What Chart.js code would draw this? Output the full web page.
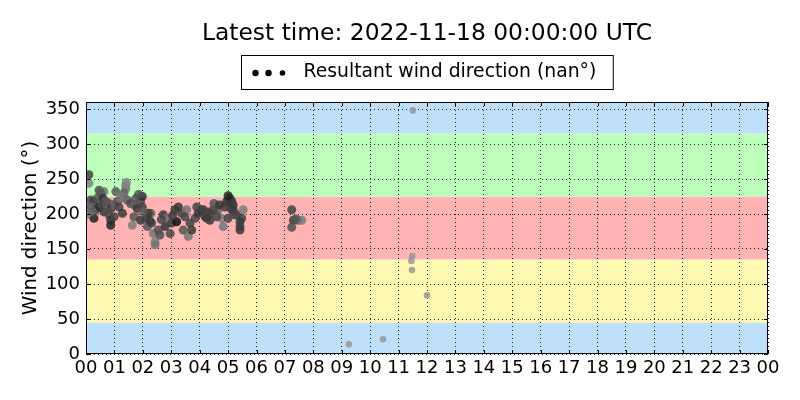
<!DOCTYPE html>
<html>
<head>
<meta charset="utf-8">
<script src="https://cdn.jsdelivr.net/npm/chart.js@4"></script>
<style>
html,body{margin:0;padding:0;background:#fff;}
#wrap{width:800px;height:400px;}
</style>
</head>
<body>
<div id="wrap"><canvas id="c" width="800" height="400"></canvas></div>
<script>
const titleText = "Latest time: 2022-11-18 00:00:00 UTC";
const legendText = "Resultant wind direction (nan°)";
const yAxisTitle = "Wind direction (°)";

// hour of day (UTC)
const hours = [0.10,0.10,0.46,0.63,0.52,1.05,1.40,1.40,1.34,1.42,
  0.17,0.28,0.40,0.05,0.17,0.34,0.46,0.57,0.63,0.81,
  0.87,0.99,1.10,1.16,1.45,1.57,1.69,1.75,1.80,1.92,
  1.98,0.28,0.81,0.87,0.87,0.99,1.28,1.63,1.69,1.92,
  2.10,2.16,2.28,0.02,1.98,0.60,0.70,0.22,1.20,1.85,
  2.19,2.31,2.37,2.43,2.43,2.54,2.72,2.78,2.84,2.96,
  3.01,3.13,3.19,3.25,3.37,3.42,3.54,3.60,3.66,3.72,
  3.84,3.95,4.07,4.19,4.30,4.36,3.48,5.07,4.95,4.89,
  5.13,5.18,5.30,5.53,5.48,5.42,4.77,4.83,4.65,4.48,
  4.36,4.25,4.13,4.60,5.00,5.13,5.18,5.24,5.42,5.42,
  7.24,7.30,7.24,7.47,7.59,7.38,9.25,10.45,11.50,11.48,
  11.45,11.47,12.00,2.65,3.05,3.90,4.50,4.70,2.00,2.25,
  2.60,5.00];
// resultant wind direction (degrees)
const directions = [256,244,234,232,230,232,241,236,230,245,
  220,218,223,208,211,206,210,213,203,215,
  208,213,218,210,220,215,213,222,208,218,
  210,194,199,191,184,196,201,184,196,191,
  194,182,201,199,225,222,218,204,222,228,
  201,187,172,160,156,177,199,182,194,172,
  187,206,189,210,201,177,206,168,187,177,
  194,201,206,196,203,191,196,222,218,210,
  206,213,199,206,194,182,194,182,206,206,
  201,194,206,196,194,218,206,199,189,177,
  206,191,181,191,191,193,14,21,348,140,
  133,120,84,192,198,210,215,213,203,190,
  170,226];
// relative wind speed shade (0 = dark/strong, 1 = light/weak)
const shade = [0.35,0.85,0.45,0.75,0.5,0.55,0.85,0.8,0.6,0.85,
  0.4,0.3,0.5,0.85,0.6,0.35,0.2,0.4,0.3,0.5,
  0.3,0.6,0.45,0.35,0.55,0.4,0.6,0.5,0.3,0.45,
  0.35,0.1,0.4,0.2,0.15,0.35,0.3,0.8,0.5,0.3,
  0.35,0.5,0.6,0.8,0.2,0.25,0.5,0.6,0.7,0.45,
  0.3,0.35,0.75,0.8,0.75,0.45,0.3,0.25,0.7,0.4,
  0.3,0.3,0.0,0.25,0.35,0.5,0.75,0.75,0.35,0.3,
  0.4,0.25,0.2,0.3,0.45,0.3,0.4,0.15,0.2,0.3,
  0.35,0.2,0.35,0.8,0.35,0.3,0.8,0.75,0.6,0.4,
  0.35,0.3,0.35,0.4,0.35,0.3,0.3,0.4,0.3,0.3,
  0.35,0.3,0.45,0.55,0.8,0.5,1,1,1,1,
  1,1,1,0.4,0.3,0.35,0.5,0.25,0.55,0.3,
  0.45,0.1];

const xTicks = [0,1,2,3,4,5,6,7,8,9,10,11,12,13,14,15,16,17,18,19,20,21,22,23,24];
const yTicks = [0,50,100,150,200,250,300,350];
const bandEdges = [0,45,135,225,315,360];
const bandColors = ['#bee0fb','#fffab3','#ffb3b3','#bbffbb','#bee0fb'];

const FONT = "'DejaVu Sans', sans-serif";

const points = hours.map((h,i)=>({x:h,y:directions[i]}));
const colors = shade.map(s=>{const g=Math.round(20+s*130);return `rgba(${g},${g},${g},0.85)`;});
const radii = shade.map(s=>s>=1?3.3:4.5);

const bgPlugin = {
  id:'bg',
  beforeDraw(chart){
    const {ctx, chartArea:a, scales:{y}} = chart;
    ctx.save();
    ctx.fillStyle='#fff';
    ctx.fillRect(0,0,chart.width,chart.height);
    for(let i=0;i<bandColors.length;i++){
      const y1=y.getPixelForValue(bandEdges[i]);
      const y2=y.getPixelForValue(bandEdges[i+1]);
      ctx.fillStyle=bandColors[i];
      ctx.fillRect(a.left,y2,a.right-a.left,y1-y2);
    }
    ctx.restore();
  },
  afterDraw(chart){
    const {ctx, chartArea:a, scales:{x,y}} = chart;
    ctx.save();
    ctx.strokeStyle='#000';
    ctx.lineWidth=1;
    ctx.strokeRect(Math.round(a.left)+0.5,Math.round(a.top)+0.5,Math.round(a.right-a.left)-1,Math.round(a.bottom-a.top)-1);
    const L=4;
    ctx.beginPath();
    xTicks.forEach(v=>{
      const px=Math.round(x.getPixelForValue(v))+0.5;
      ctx.moveTo(px,a.bottom);ctx.lineTo(px,a.bottom-L);
      ctx.moveTo(px,a.top);ctx.lineTo(px,a.top+L);
    });
    yTicks.forEach(v=>{
      const py=Math.round(y.getPixelForValue(v))+0.5;
      ctx.moveTo(a.left,py);ctx.lineTo(a.left+L,py);
      ctx.moveTo(a.right,py);ctx.lineTo(a.right-L,py);
    });
    ctx.stroke();
    // title
    ctx.fillStyle='#000';
    ctx.font=`23.4px ${FONT}`;
    ctx.textAlign='center';
    ctx.textBaseline='middle';
    ctx.fillText(titleText,(a.left+a.right)/2,34);
    // legend
    ctx.font=`18.8px ${FONT}`;
    const tw=ctx.measureText(legendText).width;
    const boxW=62+tw+17;
    const bx=Math.round((a.left+a.right)/2-boxW/2)+0.5;
    ctx.fillStyle='#fff';
    ctx.fillRect(bx,55.5,boxW,34);
    ctx.strokeRect(bx,55.5,boxW,34);
    ctx.fillStyle='#000';
    [14,27,41].forEach((dx,i)=>{
      ctx.beginPath();
      ctx.arc(bx+dx,73,i===2?2.8:3.2,0,Math.PI*2);
      ctx.fill();
    });
    ctx.textAlign='left';
    ctx.fillText(legendText,bx+62,72);
    ctx.restore();
  }
};

new Chart(document.getElementById('c'),{
  type:'scatter',
  data:{datasets:[{
    label:legendText,
    data:points,
    pointRadius:radii,
    pointHoverRadius:radii,
    pointBorderWidth:0,
    pointBackgroundColor:colors,
    backgroundColor:colors
  }]},
  options:{
    responsive:false,
    animation:false,
    devicePixelRatio:1,
    layout:{padding:{left:0,right:32,top:102,bottom:0}},
    plugins:{legend:{display:false},title:{display:false},tooltip:{enabled:false}},
    scales:{
      x:{
        type:'linear',min:0,max:24,
        afterFit(s){s.height=46;},
        afterBuildTicks(s){s.ticks=xTicks.map(v=>({value:v}));},
        ticks:{stepSize:1,autoSkip:false,maxRotation:0,padding:4,color:'#000',font:{family:FONT,size:18},
          callback:v=>String(v%24).padStart(2,'0')},
        grid:{color:'rgba(0,0,0,0.85)',lineWidth:1,drawTicks:false},
        border:{display:false,dash:[1,3]}
      },
      y:{
        type:'linear',min:0,max:360,
        afterFit(s){s.width=86;},
        afterBuildTicks(s){s.ticks=yTicks.map(v=>({value:v}));},
        ticks:{stepSize:50,padding:6,color:'#000',font:{family:FONT,size:18}},
        grid:{color:'rgba(0,0,0,0.85)',lineWidth:1,drawTicks:false},
        border:{display:false,dash:[1,3]},
        title:{display:true,text:yAxisTitle,color:'#000',font:{family:FONT,size:19.8},padding:{top:19,bottom:0}}
      }
    }
  },
  plugins:[bgPlugin]
});
</script>
</body>
</html>
